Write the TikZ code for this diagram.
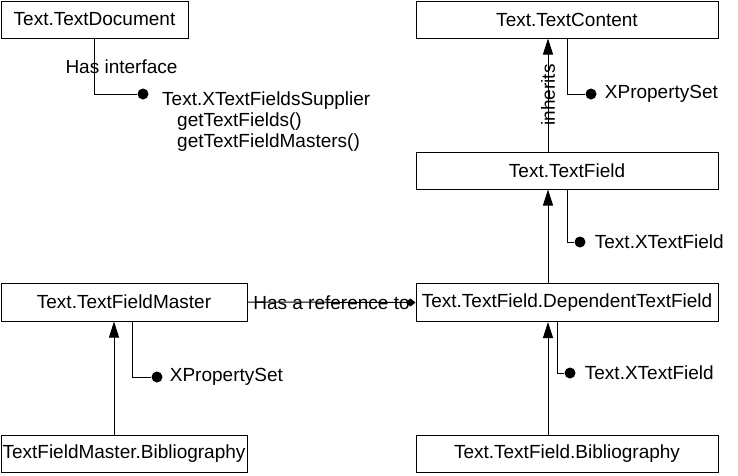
\documentclass[tikz,border=0pt]{standalone}
\usepackage{fontspec}
\setmainfont{Liberation Sans}
\usetikzlibrary{arrows.meta}
\begin{document}
\begin{tikzpicture}[x=1pt,y=-1pt,
  box/.style={draw,line width=1pt,inner sep=0pt,minimum height=37pt},
  conn/.style={line width=1pt},
  inh/.style={conn,-{Triangle[length=16pt,width=10pt]}},
  dot/.style={circle,fill,inner sep=0pt,minimum size=11pt},
  lbl/.style={anchor=west,inner sep=0pt},
  font=\fontsize{19}{21}\selectfont]
\useasboundingbox (0,0) rectangle (738,475);
% boxes
\node[box,minimum width=187pt] (doc) at (94.5,19.5) {Text.TextDocument};
\node[box,minimum width=302pt] (content) at (567,19.5) {Text.TextContent};
\node[box,minimum width=302pt] (field) at (567,170.5) {Text.TextField};
\node[box,minimum width=302pt,minimum height=38pt] (dep) at (567,302.5) {Text.TextField.DependentTextField};
\node[box,minimum width=302pt] (fbib) at (567,453.5) {Text.TextField.Bibliography};
\node[box,minimum width=246pt,minimum height=38pt] (master) at (124,302) {Text.TextFieldMaster};
\node[box,minimum width=246pt] (mbib) at (124,453.5) {TextFieldMaster.Bibliography};
% interface dots
\node[dot] (d1) at (143,94) {};
\node[dot] (d2) at (591,94) {};
\node[dot] (d3) at (580,242) {};
\node[dot] (d4) at (570,373) {};
\node[dot] (d5) at (157,377) {};
% interface connectors
\draw[conn] (doc.south) |- (d1) node[pos=0.25,xshift=27pt,inner sep=0pt] {Has interface};
\draw[conn] (content.south) |- (d2);
\draw[conn] (field.south) |- (d3);
\draw[conn] ([xshift=-10pt]dep.south) |- (d4);
\draw[conn] ([xshift=8pt]master.south) |- (d5);
% interface labels
\node[lbl,anchor=north west,align=left] (sup) at (162,92) {Text.XTextFieldsSupplier\\\hspace*{15pt}getTextFields()\\\hspace*{15pt}getTextFieldMasters()};
\node[lbl] (l2) at ([xshift=8pt]d2.east) {XPropertySet};
\node[lbl] (l3) at ([xshift=9pt]d3.east) {Text.XTextField};
\node[lbl] (l4) at ([xshift=9pt]d4.east) {Text.XTextField};
\node[lbl] (l5) at ([xshift=7pt]d5.east) {XPropertySet};
% inheritance
\draw[inh] ([xshift=-19pt]field.north) -- ([xshift=-19pt]content.south) node[midway,rotate=90,inner sep=0pt] {inherits};
\draw[inh] ([xshift=-19pt]dep.north) -- ([xshift=-19pt]field.south);
\draw[inh] ([xshift=-19pt]fbib.north) -- ([xshift=-19pt]dep.south);
\draw[inh] ([xshift=-10pt]mbib.north) -- ([xshift=-10pt]master.south);
% reference
\draw[conn,-{Diamond[length=10pt,width=8pt]}] (master.east) -- (dep.west) node[midway,inner sep=0pt] {Has a reference to};
\end{tikzpicture}
\end{document}
